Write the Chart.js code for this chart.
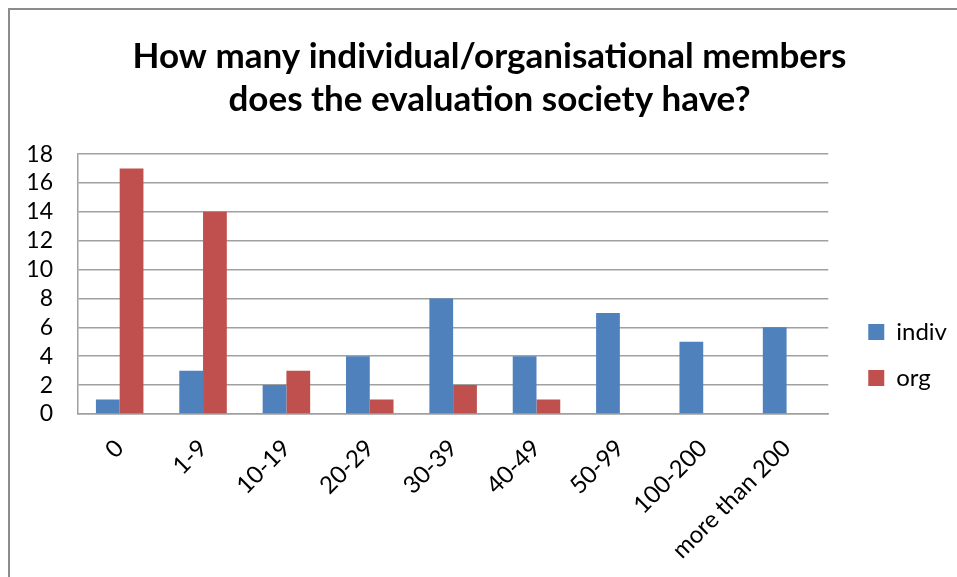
<!DOCTYPE html>
<html>
<head>
<meta charset="utf-8">
<script src="https://cdn.jsdelivr.net/npm/chart.js@4/dist/chart.umd.min.js"></script>
<style>
  body { margin: 0; background: #fff; }
  #wrap { position: relative; width: 957px; height: 577px; }
</style>
</head>
<body>
<div id="wrap"><canvas id="chart"></canvas></div>
<script>
const categories = ['0', '1-9', '10-19', '20-29', '30-39', '40-49', '50-99', '100-200', 'more than 200'];
const indivValues = [1, 3, 2, 4, 8, 4, 7, 5, 6];
const orgValues = [17, 14, 3, 1, 2, 1, 0, 0, 0];
const titleLines = ['How many individual/organisational members', 'does the evaluation society have?'];

const gridGray = '#a0a0a0';

// outer frame of the chart, like the Excel chart border
const framePlugin = {
    id: 'frame',
    beforeDraw(chart) {
        const c = chart.ctx;
        c.save();
        c.strokeStyle = '#8c8c8c';
        c.lineWidth = 2;
        c.strokeRect(9, 9, chart.width + 20, chart.height + 20);
        c.restore();
    }
};

// push the legend down next to the lower half of the plot
const legendShift = {
    id: 'legendShift',
    afterLayout(chart) {
        const lg = chart.legend;
        lg.top += 298;
        lg.bottom += 298;
    }
};

const ctx = document.getElementById('chart').getContext('2d');
const chart = new Chart(ctx, {
    type: 'bar',
    data: {
        labels: categories,
        datasets: [
            { label: 'indiv', data: indivValues, backgroundColor: '#4F81BD' },
            { label: 'org', data: orgValues, backgroundColor: '#C0504D' }
        ]
    },
    options: {
        responsive: true,
        maintainAspectRatio: false,
        animation: false,
        layout: { padding: { left: 22, right: 0, top: 0, bottom: 0 } },
        datasets: {
            bar: { barPercentage: 1, categoryPercentage: 0.57 }
        },
        plugins: {
            title: {
                display: true,
                text: titleLines,
                color: '#000',
                font: { family: 'Lato', size: 35, weight: 'bold', lineHeight: 1.23 },
                padding: { top: 35, bottom: 33 }
            },
            legend: {
                position: 'right',
                align: 'start',
                labels: {
                    color: '#000',
                    font: { family: 'Lato', size: 24 },
                    boxWidth: 16,
                    boxHeight: 16,
                    padding: 22
                }
            },
            tooltip: { enabled: false }
        },
        scales: {
            x: {
                grid: { display: false, drawTicks: false },
                border: { color: gridGray, width: 1.5 },
                ticks: {
                    color: '#000',
                    font: { family: 'Lato', size: 24 },
                    minRotation: 45,
                    maxRotation: 45,
                    padding: 20
                },
                afterFit(scale) { scale.height = 163; }
            },
            y: {
                min: 0,
                max: 18,
                ticks: {
                    stepSize: 2,
                    autoSkip: false,
                    color: '#000',
                    font: { family: 'Lato', size: 23 },
                    padding: 25
                },
                grid: { color: gridGray, lineWidth: 1.5, drawTicks: false },
                border: { color: gridGray, width: 1.5 },
                afterFit(scale) { scale.width = 56; }
            },
            // empty spacer between the plot and the legend
            gap: {
                position: 'right',
                display: true,
                grid: { display: false, drawTicks: false },
                border: { display: false },
                ticks: { display: false },
                afterFit(scale) { scale.width = 18; }
            }
        }
    },
    plugins: [framePlugin, legendShift]
});
</script>
</body>
</html>
